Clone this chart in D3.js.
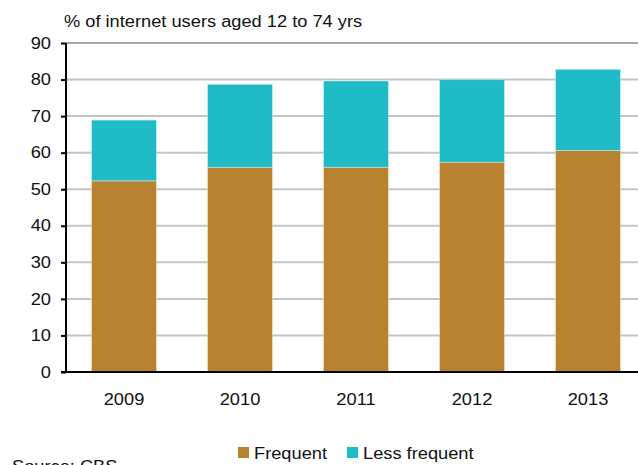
<!DOCTYPE html>
<html>
<head>
<meta charset="utf-8">
<script src="https://cdn.jsdelivr.net/npm/d3@7"></script>
<style>
  html, body { margin: 0; padding: 0; background: #fff; }
  svg { display: block; }
  text { font-family: "Liberation Sans", Arial, sans-serif; fill: #111; }
</style>
</head>
<body>
<svg id="chart" width="638" height="465"></svg>
<script>
// Internet users by frequency of use, share of population aged 12 to 74
const years = ["2009", "2010", "2011", "2012", "2013"];
const frequent = [52.3, 56.0, 56.0, 57.4, 60.6];
const lessFrequent = [16.6, 22.7, 23.6, 22.6, 22.2];
const yTicks = [0, 10, 20, 30, 40, 50, 60, 70, 80, 90];
const seriesNames = ["Frequent", "Less frequent"];
const seriesColors = ["#b88331", "#1fbbc6"];
const titleText = "% of internet users aged 12 to 74 yrs";
const sourceText = "Source: CBS";

const svg = d3.select("#chart");
const plotLeft = 66, plotRight = 646, plotTop = 43, plotBottom = 372;
const fontSize = 16;
const stretch = 1.14;

// widen glyphs horizontally to a broader letterform
function widen(sel) {
  sel.each(function () {
    const w = this.getComputedTextLength();
    d3.select(this).attr("textLength", w * stretch).attr("lengthAdjust", "spacingAndGlyphs");
  });
}

const x = d3.scaleBand().domain(years).range([plotLeft, plotRight]).paddingInner(0.44).paddingOuter(0.22);
const y = d3.scaleLinear().domain([0, 90]).range([plotBottom, plotTop]);

// gridlines
svg.append("g").selectAll("line").data(yTicks.filter(d => d > 0)).join("line")
  .attr("x1", plotLeft).attr("x2", 638)
  .attr("y1", d => y(d)).attr("y2", d => y(d))
  .attr("stroke", d => d === 90 ? "#a8a8a8" : "#c4c4c4")
  .attr("stroke-width", 2);

// stacked bars
const rows = years.map((yr, i) => ({ year: yr, Frequent: frequent[i], "Less frequent": lessFrequent[i] }));
const stacked = d3.stack().keys(seriesNames)(rows);
svg.append("g").selectAll("g").data(stacked).join("g")
  .attr("fill", (d, i) => seriesColors[i])
  .selectAll("rect").data(d => d).join("rect")
  .attr("x", d => x(d.data.year))
  .attr("width", x.bandwidth())
  .attr("y", d => y(d[1]))
  .attr("height", d => y(d[0]) - y(d[1]))
  .attr("stroke", "rgba(255,255,255,0.35)")
  .attr("stroke-width", 1);

// y axis
const yAxis = svg.append("g").attr("transform", `translate(${plotLeft},0)`)
  .call(d3.axisLeft(y).tickValues(yTicks).tickSize(5).tickPadding(10));
yAxis.select(".domain").attr("stroke", "#000").attr("stroke-width", 2).attr("d", `M0,${plotTop}V${plotBottom}`);
yAxis.selectAll(".tick line").attr("stroke", "#000").attr("stroke-width", 2);
yAxis.selectAll(".tick text").attr("font-size", fontSize).attr("fill", "#111")
  .attr("font-family", "Liberation Sans, Arial, sans-serif").call(widen);

// x axis baseline
svg.append("line").attr("x1", 61).attr("x2", 638).attr("y1", plotBottom).attr("y2", plotBottom)
  .attr("stroke", "#000").attr("stroke-width", 2);

// year labels
svg.append("g").selectAll("text").data(years).join("text")
  .attr("x", d => x(d) + x.bandwidth() / 2)
  .attr("y", 405)
  .attr("text-anchor", "middle")
  .attr("font-size", fontSize)
  .text(d => d)
  .call(widen);

// title
svg.append("text").attr("x", 64).attr("y", 27).attr("font-size", fontSize).text(titleText).call(widen);

// legend
const legendX = [238, 347];
const legend = svg.append("g").selectAll("g").data(seriesNames).join("g")
  .attr("transform", (d, i) => `translate(${legendX[i]},447)`);
legend.append("rect").attr("width", 11).attr("height", 11).attr("fill", (d, i) => seriesColors[i]);
legend.append("text").attr("x", 16).attr("y", 12).attr("font-size", fontSize).text(d => d).call(widen);

// source note
svg.append("text").attr("x", 12).attr("y", 472).attr("font-size", fontSize).text(sourceText).call(widen);
</script>
</body>
</html>
